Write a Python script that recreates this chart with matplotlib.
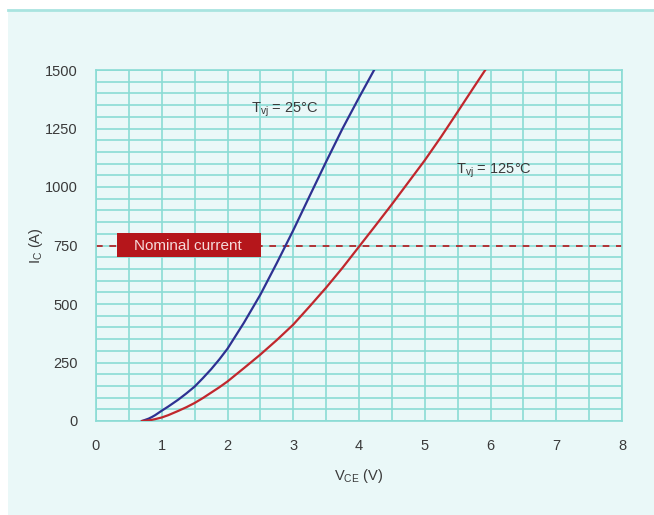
import matplotlib
matplotlib.use("Agg")
import matplotlib.pyplot as plt
from matplotlib.patches import Rectangle
from matplotlib.lines import Line2D

plt.rcParams['font.family'] = ['Liberation Sans', 'DejaVu Sans']
plt.rcParams['mathtext.fontset'] = 'custom'
plt.rcParams['mathtext.rm'] = 'Liberation Sans'

# output characteristic
v_25 = [0.70, 0.75, 0.80, 0.85, 0.90, 1.00, 1.10, 1.25, 1.375, 1.50,
        1.625, 1.75, 1.875, 2.00, 2.25, 2.50, 2.75, 3.00, 3.25, 3.50,
        3.75, 4.00, 4.23]
i_25 = [0, 5, 10, 17, 25, 44, 62, 91, 118, 147,
        183, 221, 263, 309, 420, 540, 675, 815, 962, 1108,
        1250, 1382, 1500]

v_125 = [0.70, 0.75, 0.80, 0.85, 0.90, 1.00, 1.10, 1.25, 1.375, 1.50,
         1.625, 1.75, 1.875, 2.00, 2.25, 2.50, 2.75, 3.00, 3.25, 3.50,
         3.75, 4.00, 4.25, 4.50, 4.75, 5.00, 5.25, 5.50, 5.75, 5.92]
i_125 = [0, 1, 3, 5, 8, 15, 25, 43, 59, 77,
         98, 121, 144, 169, 226, 284, 346, 412, 490, 570,
         655, 745, 835, 926, 1020, 1114, 1215, 1321, 1428, 1500]

nominal = 750
xticks = [0, 1, 2, 3, 4, 5, 6, 7, 8]
yticks = [0, 250, 500, 750, 1000, 1250, 1500]

bg = '#EAF8F8'
grid_col = '#8BDCD5'
txt = '#3a3a3a'

fig = plt.figure(figsize=(6.54, 5.15), dpi=100)
fig.patch.set_facecolor('white')

# panel behind the chart
fig.patches.append(Rectangle((8/654, 0), 1 - 8/654, 1 - 10/515,
                             transform=fig.transFigure, facecolor=bg,
                             edgecolor='none', zorder=-10))
fig.lines.append(Line2D([8/654, 1], [1 - 10/515, 1 - 10/515],
                        transform=fig.transFigure, color='#A9E4E0', lw=2,
                        zorder=-9))

ax = fig.add_axes([96/654, 1 - 421/515, 526/654, 351/515])
ax.set_zorder(1)
ax.set_facecolor(bg)
ax.set_xlim(0, 8)
ax.set_ylim(0, 1500)

# grid every 0.5 V and 50 A
for gx in [k * 0.5 for k in range(17)]:
    ax.axvline(gx, color=grid_col, lw=1.2, zorder=1)
for gy in range(0, 1501, 50):
    ax.axhline(gy, color=grid_col, lw=1.2, zorder=1)
for s in ax.spines.values():
    s.set_color(grid_col)
    s.set_linewidth(1.2)

ax.set_xticks(xticks)
ax.set_yticks(yticks)
ax.tick_params(length=0, labelsize=10.5, labelcolor=txt)
ax.tick_params(axis='x', pad=13)
ax.tick_params(axis='y', pad=13)

ax.axhline(nominal, color='#B5161B', lw=1.2, ls=(0, (4, 4)), zorder=2)

ax.plot(v_25, i_25, color='#2E3192', lw=1.6, zorder=3)
ax.plot(v_125, i_125, color='#C1272D', lw=1.6, zorder=3)

ax.add_patch(Rectangle((0.315, 702), 2.195, 101, facecolor='#B5161B',
                       edgecolor='none', zorder=4))
ax.text(1.40, nominal, 'Nominal current', color='#F5DADA', fontsize=11,
        ha='center', va='center', zorder=5)

ax.text(2.36, 1330, r'T$_{\mathregular{vj}}$ = 25°C', color=txt,
        fontsize=10.5, ha='left', va='center', zorder=5)
ax.text(5.47, 1070, r'T$_{\mathregular{vj}}$ = 125°C', color=txt,
        fontsize=10.5, ha='left', va='center', zorder=5)

ax.set_xlabel(r'V$_{\mathregular{CE}}$ (V)', fontsize=10.5, color=txt,
              labelpad=10)
ax.set_ylabel(r'I$_{\mathregular{C}}$ (A)', fontsize=10.5, color=txt,
              labelpad=0)

fig.savefig('out.png', dpi=100, facecolor=fig.get_facecolor())
